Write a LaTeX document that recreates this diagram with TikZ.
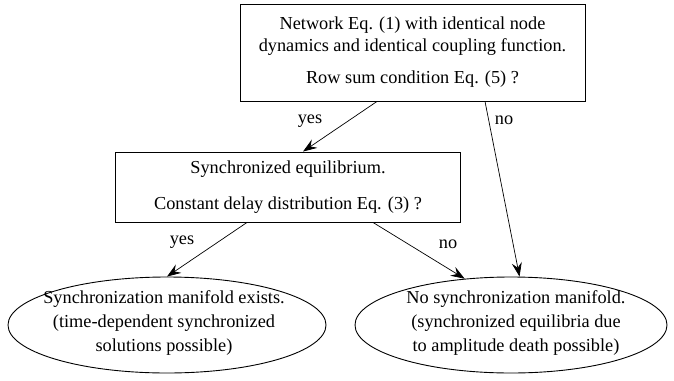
\documentclass[tikz,border=0pt]{standalone}
\usepackage{fontspec}
\setmainfont{Liberation Serif}
\newfontfamily\chartfont{Liberation Serif}
\usetikzlibrary{shapes.geometric,arrows.meta}

\tikzset{
  every node/.append style={font=\chartfont\fontsize{18.3}{22}\selectfont},
  question/.style={draw, line width=0.9pt, minimum width=345pt, inner sep=0pt, align=center},
  outcome/.style={draw, ellipse, line width=0.9pt, inner sep=0pt, minimum height=96pt},
  answer/.style={-{Stealth[length=14pt,width=10pt,inset=5pt]}, line width=0.7pt},
}

\begin{document}
\begin{tikzpicture}[x=1pt,y=-1pt]
	\useasboundingbox (0,0) rectangle (674,380);
	% the two questions
	\node[question, minimum height=97pt] (rowsum) at (412.5,52.5) {Network Eq. (1) with identical node\\dynamics and identical coupling function.\\[10pt]Row sum condition Eq. (5) ?};
	\node[question, minimum height=70pt] (delay) at (288,187) {Synchronized equilibrium.\\[14pt]Constant delay distribution Eq. (3) ?};
	% the two outcomes
	\node[outcome, minimum width=318pt] (exists) at (167,325) {};
	\node[align=center] (existstxt) at (164,323) {Synchronization manifold exists.\\[2pt](time-dependent synchronized\\[2pt]solutions possible)};
	\node[outcome, minimum width=312pt] (none) at (511,325) {};
	\node[align=center] (nonetxt) at (516,323) {No synchronization manifold.\\[2pt](synchronized equilibria due\\[2pt]to amplitude death possible)};
	% answers
	\draw[answer] ([xshift=-35.5pt]rowsum.south) -- ([xshift=15pt]delay.north);
	\draw[answer] ([xshift=72.5pt]rowsum.south) -- (none.80);
	\draw[answer] ([xshift=-41pt]delay.south) -- (exists.north);
	\draw[answer] ([xshift=85pt]delay.south) -- (none.135);
	\node (yes1) at (310,121) {yes};
	\node (no1) at (504,120) {no};
	\node (yes2) at (182,242) {yes};
	\node (no2) at (448,244) {no};
\end{tikzpicture}
\end{document}
